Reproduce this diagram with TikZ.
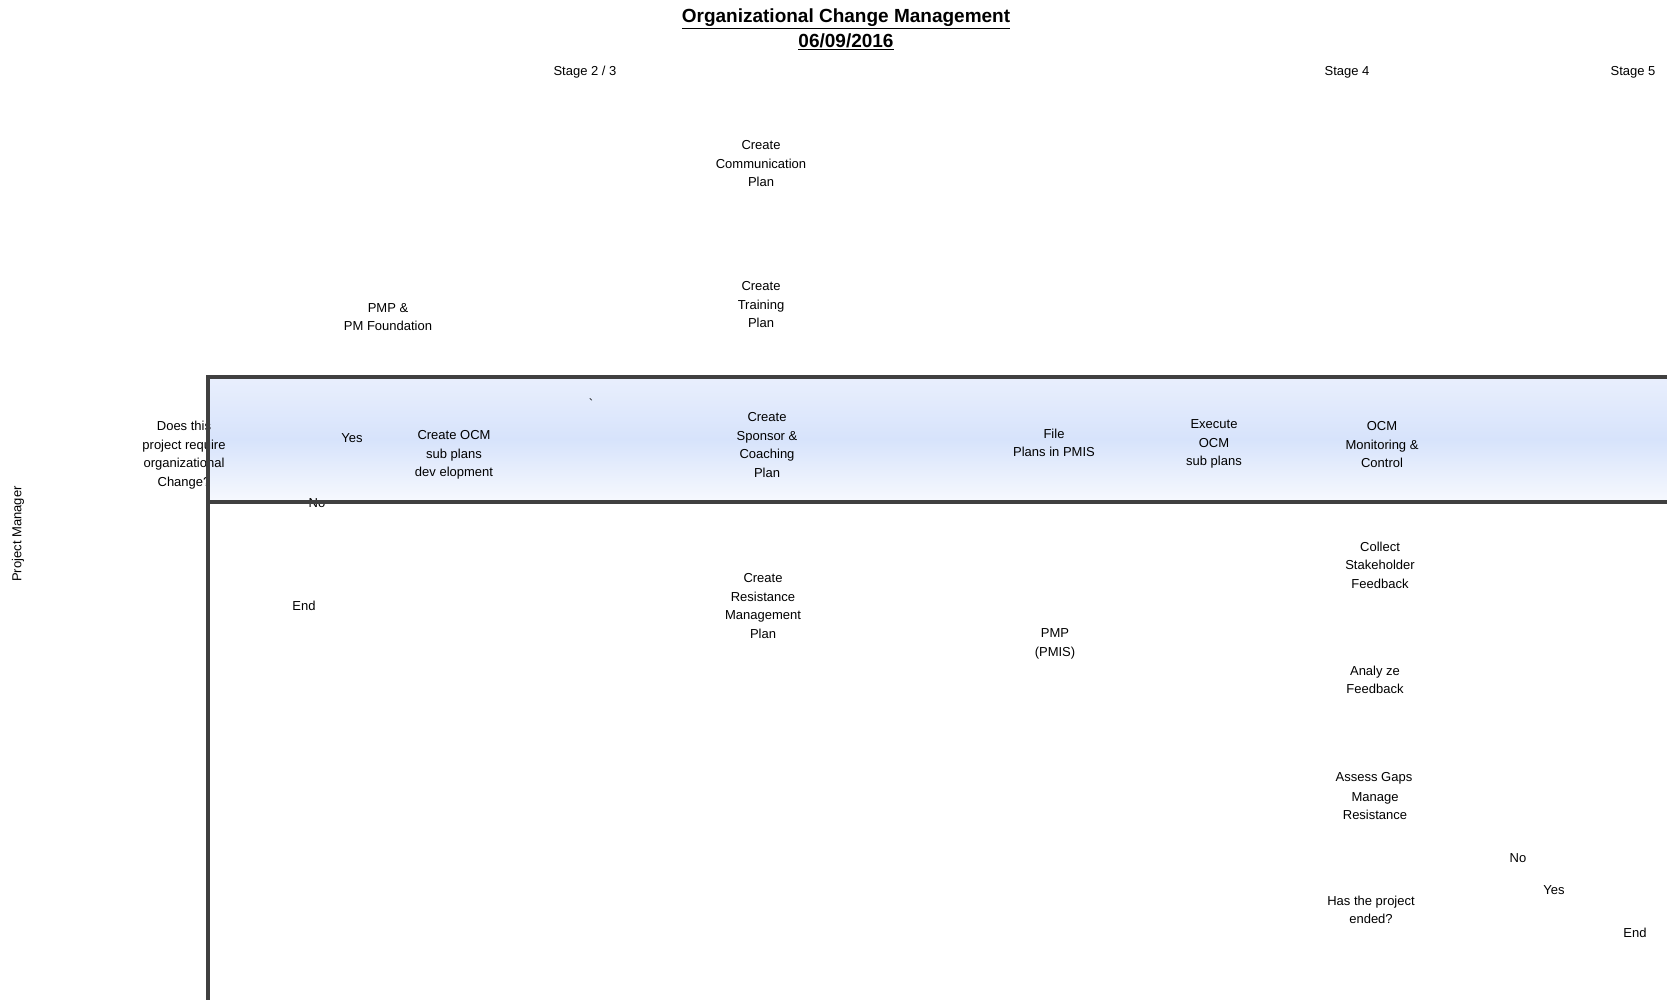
\documentclass[tikz,border=0pt]{standalone}
\usepackage{fontspec}
\setmainfont{Liberation Sans}
\usepackage{tikz}
\usetikzlibrary{calc}
\definecolor{lanegray}{HTML}{404040}
\definecolor{laneblue}{HTML}{D7E3FB}
\definecolor{lanetop}{HTML}{E9EFFD}
\definecolor{lanebot}{HTML}{F7F9FE}

\begin{document}
\begin{tikzpicture}[x=1pt,y=-1pt,
    txt/.style={align=center, inner sep=0pt, font=\fontsize{13}{18.5}\selectfont},
    ttl/.style={align=center, inner sep=0pt, font=\fontsize{19}{24.5}\selectfont\bfseries}]
        \useasboundingbox (0,0) rectangle (1667,1000);
        % lane header band
        \shade[top color=lanetop, bottom color=lanebot, middle color=laneblue] (208,377) rectangle (1667,502);
        % title
        \node[ttl] (title) at (846,19) {\underline{Organizational Change Management}};
        \node[ttl] (date) at (846,42) {\underline{06/09/2016}};
        % stages
        \node[txt] (stage23) at (585,72) {Stage 2 / 3};
        \node[txt] (stage4) at (1347,72) {Stage 4};
        \node[txt] (stage5) at (1633,72) {Stage 5};
        \node[txt, rotate=90] (pm) at (18,534) {Project Manager};
        % activities
        \node[txt] (commplan) at (761,164) {Create\\Communication\\Plan};
        \node[txt] (trainplan) at (761,305) {Create\\Training\\Plan};
        \node[txt] (pmpfound) at (388,317) {PMP \&\\PM Foundation};
        \node[txt] (ocmq) at (184,455) {Does this\\project require\\organizational\\Change?};
        \node[txt] (yes1) at (352,438) {Yes};
        \node[txt] (no1) at (317,503) {No};
        \node[txt] (subplans) at (454,455) {Create OCM\\sub plans\\dev elopment};
        \node[txt] (tick) at (591,404) {\textasciigrave};
        \node[txt] (sponsor) at (767,445) {Create\\Sponsor \&\\Coaching\\Plan};
        \node[txt] (fileplans) at (1054,443) {File\\Plans in PMIS};
        \node[txt] (execute) at (1214,444) {Execute\\OCM\\sub plans};
        \node[txt] (monitor) at (1382,445) {OCM\\Monitoring \&\\Control};
        \node[txt] (end1) at (304,606) {End};
        \node[txt] (resist) at (763,606) {Create\\Resistance\\Management\\Plan};
        \node[txt] (pmis) at (1055,644) {PMP\\(PMIS)};
        \node[txt] (collect) at (1380,565) {Collect\\Stakeholder\\Feedback};
        \node[txt] (analyze) at (1375,680) {Analy ze\\Feedback};
        \node[txt] (gaps) at (1374,778) {Assess Gaps};
        \node[txt] (manage) at (1375,806) {Manage\\Resistance};
        \node[txt] (ended) at (1371,910) {Has the project\\ended?};
        \node[txt] (no2) at (1518,858) {No};
        \node[txt] (yes2) at (1554,890) {Yes};
        \node[txt] (end2) at (1635,933) {End};
        % lane borders
        \draw[line width=4.5pt, color=lanegray] (1667,377) -- (208,377) -- (208,1000);
        \draw[line width=4.5pt, color=lanegray] (208,502) -- (1667,502);
\end{tikzpicture}
\end{document}
